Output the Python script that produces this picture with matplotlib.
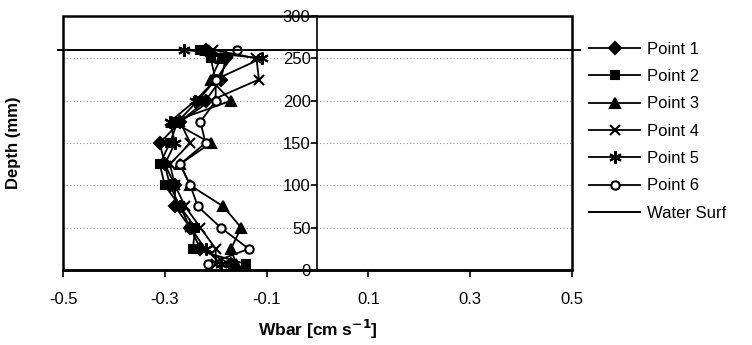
import matplotlib.pyplot as plt
from matplotlib.patches import Rectangle

# velocity profiles, Wbar (cm/s) against depth (mm)
depth = [7, 25, 50, 75, 100, 125, 150, 175, 200, 225, 250, 260]
point1 = [-0.17, -0.23, -0.25, -0.28, -0.28, -0.30, -0.31, -0.27, -0.22, -0.19, -0.18, -0.22]
point2 = [-0.14, -0.245, -0.24, -0.27, -0.30, -0.31, -0.29, -0.275, -0.235, -0.20, -0.21, -0.23]
point3 = [-0.16, -0.17, -0.15, -0.185, -0.25, -0.27, -0.21, -0.285, -0.17, -0.21, -0.19, -0.22]
point4 = [-0.20, -0.20, -0.23, -0.26, -0.28, -0.29, -0.25, -0.27, -0.21, -0.115, -0.12, -0.205]
point5 = [-0.19, -0.22, -0.25, -0.27, -0.29, -0.30, -0.28, -0.29, -0.24, -0.20, -0.11, -0.262]
point6_depth = [7, 25, 50, 75, 100, 125, 150, 175, 200, 225, 260]
point6 = [-0.215, -0.135, -0.19, -0.235, -0.25, -0.27, -0.22, -0.23, -0.20, -0.20, -0.158]
water_x = [-0.51, 0.515]
water_depth = [260, 260]

x_ticks = [-0.5, -0.3, -0.1, 0.1, 0.3, 0.5]
y_ticks = [0, 50, 100, 150, 200, 250, 300]

plt.rcParams['font.family'] = ['Liberation Sans', 'DejaVu Sans']

fig = plt.figure(figsize=(7.52, 3.45), dpi=100)
ax = fig.add_axes([0.0838, 0.2174, 0.6768, 0.7362])

star = (6, 2, 0)
series = [
    (point1, depth, 'D', 'k', 6, 'Point 1'),
    (point2, depth, 's', 'k', 6, 'Point 2'),
    (point3, depth, '^', 'k', 7, 'Point 3'),
    (point4, depth, 'x', 'k', 7, 'Point 4'),
    (point5, depth, star, 'k', 9, 'Point 5'),
    (point6, point6_depth, 'o', 'white', 6, 'Point 6'),
]
for vals, d, m, fc, ms, lab in series:
    ax.plot(vals, d, color='k', lw=1.3, marker=m, ms=ms, mfc=fc,
            mec='k', mew=1.5, label=lab, clip_on=False, zorder=3)
ax.plot(water_x, water_depth, color='k', lw=1.4, label='Water Surf',
        clip_on=False, zorder=3)

ax.set_xlim(-0.5, 0.5)
ax.set_ylim(0, 300)
ax.set_xticks(x_ticks)
ax.set_xticklabels(['%g' % t for t in x_ticks])
ax.set_yticks(y_ticks)
ax.yaxis.grid(True, color='#999999', ls=(0, (1, 2)), lw=0.8)

# y axis crosses at x = 0, frame drawn round the plot area
for s in ['top', 'right']:
    ax.spines[s].set_visible(False)
ax.spines['left'].set_position(('data', 0))
ax.spines['left'].set_linewidth(1.2)
ax.spines['bottom'].set_linewidth(1.8)
ax.add_patch(Rectangle((0, 0), 1, 1, transform=ax.transAxes, fill=False,
                       lw=1.8, ec='k', clip_on=False, zorder=4))

ax.tick_params(axis='x', direction='out', length=5, width=1.2, labelsize=12, pad=11)
ax.tick_params(axis='y', direction='out', length=4, width=1.2, labelsize=12, pad=1)

ax.set_xlabel('Wbar [cm s$^{\\mathbf{-1}}$]', fontsize=12.5, fontweight='bold', labelpad=8)
ax.set_ylabel('Depth (mm)', fontsize=12, fontweight='bold')
ax.yaxis.set_label_coords(-0.082, 0.5)

ax.legend(loc='upper left', bbox_to_anchor=(1.02, 0.925), frameon=False,
          fontsize=12, handlelength=3.1, handletextpad=0.4,
          labelspacing=0.74, numpoints=1, borderaxespad=0)

fig.savefig('out.png', dpi=100)
